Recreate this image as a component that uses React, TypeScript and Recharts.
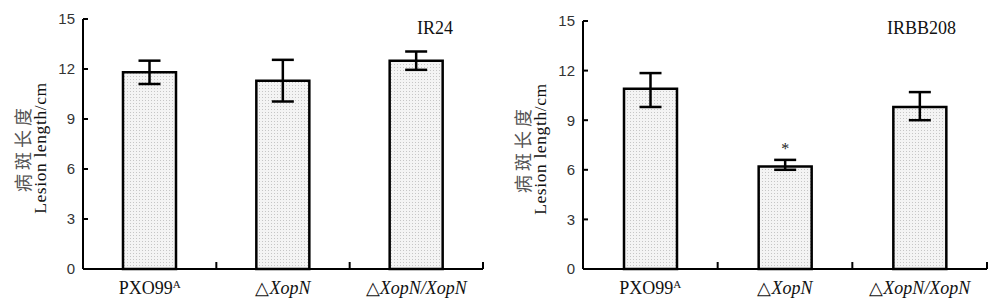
import React from "react";
import { BarChart, Bar, XAxis, YAxis, ErrorBar, LabelList } from "recharts";

const categories = ["PXO99A", "△XopN", "△XopN/XopN"];
const yTicks = [0, 3, 6, 9, 12, 15];
const ir24Means = [11.8, 11.3, 12.5];
const ir24Errors = [[0.7, 0.7], [1.25, 1.25], [0.55, 0.55]];
const ir24Sig = ["", "", ""];
const irbbMeans = [10.9, 6.2, 9.8];
const irbbErrors = [[1.1, 0.95], [0.2, 0.4], [0.8, 0.9]];
const irbbSig = ["", "*", ""];
const panelTitles = ["IR24", "IRBB208"];
const yLabelCn = "病斑长度";
const yLabelEn = "Lesion length/cm";

const SERIF = "Liberation Serif, Times New Roman, serif";
const SANS = "Liberation Sans, Arial, sans-serif";

const build = (means: number[], errs: number[][], sig: string[]) =>
  categories.map((c, i) => ({ name: c, mean: means[i], err: errs[i], sig: sig[i] }));

const XTick = (props: any) => {
  const { x, y, payload } = props;
  const half = payload && payload.offset ? payload.offset : 0;
  const v: string = payload.value;
  let content: any;
  if (v === "PXO99A") {
    content = (
      <>
        <tspan>PXO99</tspan>
        <tspan fontSize={11} dy={-6}>A</tspan>
      </>
    );
  } else {
    content = (
      <>
        <tspan>△</tspan>
        <tspan fontStyle="italic">{v.slice(1)}</tspan>
      </>
    );
  }
  return (
    <g>
      <line x1={x + half} x2={x + half} y1={y} y2={y - 7} stroke="#000" strokeWidth={2} />
      <text x={x} y={y + 25} textAnchor="middle" style={{ fontFamily: SERIF, fontSize: 18 }} fill="#111">
        {content}
      </text>
    </g>
  );
};

const YLabel = (p: any) => {
  const vb = p.viewBox || { x: 0, y: 0, width: 83, height: 250 };
  const cy = vb.y + vb.height / 2 + 4;
  const x1 = 22;
  const x2 = 40;
  return (
    <g>
      <text
        x={x1}
        y={cy}
        transform={`rotate(-90, ${x1}, ${cy})`}
        textAnchor="middle"
        dominantBaseline="central"
        style={{ fontFamily: "Noto Sans CJK SC, sans-serif", fontSize: 18, letterSpacing: 4 }}
        fill="#555"
      >
        {yLabelCn}
      </text>
      <text
        x={x2}
        y={cy}
        transform={`rotate(-90, ${x2}, ${cy})`}
        textAnchor="middle"
        dominantBaseline="central"
        style={{ fontFamily: SERIF, fontSize: 17.5, letterSpacing: 0.6 }}
        fill="#111"
      >
        {yLabelEn}
      </text>
    </g>
  );
};

const SigLabel = (p: any) => {
  const { x, y, width, value } = p;
  if (!value) return null;
  return (
    <text x={x + width / 2} y={y - 12} textAnchor="middle" style={{ fontFamily: SERIF, fontSize: 16 }} fill="#222">
      {value}
    </text>
  );
};

const Panel = ({ data, top, right }: { data: any[]; top: number; right: number }) => (
  <BarChart
    width={500}
    height={308}
    data={data}
    margin={{ top, right, left: 0, bottom: 0 }}
    barCategoryGap={0}
  >
    <XAxis
      dataKey="name"
      type="category"
      height={39}
      tickSize={0}
      tickMargin={0}
      tickLine={false}
      axisLine={{ stroke: "#000", strokeWidth: 2 }}
      tick={<XTick />}
      interval={0}
    />
    <YAxis
      type="number"
      domain={[0, 15]}
      ticks={yTicks}
      width={83}
      tickSize={-5}
      tickMargin={13}
      tickLine={{ stroke: "#000", strokeWidth: 2 }}
      axisLine={{ stroke: "#000", strokeWidth: 2 }}
      tick={{ fontFamily: SANS, fontSize: 15, fill: "#333" }}
      label={{ content: (p: any) => <YLabel {...p} /> }}
    />
    <Bar
      dataKey="mean"
      barSize={53}
      fill="url(#stipple)"
      stroke="#000"
      strokeWidth={2.5}
      isAnimationActive={false}
    >
      <ErrorBar dataKey="err" width={11} strokeWidth={2.5} stroke="#000" />
      <LabelList dataKey="sig" content={(p: any) => <SigLabel {...p} />} />
    </Bar>
  </BarChart>
);

export default function App() {
  const left = build(ir24Means, ir24Errors, ir24Sig);
  const rightData = build(irbbMeans, irbbErrors, irbbSig);
  return (
    <div style={{ position: "absolute", left: 0, top: 0, width: 1000, height: 308, background: "#fff", overflow: "hidden" }}>
      <svg width={0} height={0} style={{ position: "absolute" }}>
        <defs>
          <pattern id="stipple" width={3} height={3} patternUnits="userSpaceOnUse">
            <rect width={3} height={3} fill="#f4f4f4" />
            <rect x={1} y={1} width={1} height={1} fill="#c6c6c6" />
          </pattern>
        </defs>
      </svg>
      <div style={{ position: "absolute", left: 0, top: 0, width: 500, height: 308 }}>
        <Panel data={left} top={19} right={17} />
        <div style={{ position: "absolute", left: 417, top: 17, fontFamily: SERIF, fontSize: 18, color: "#111", lineHeight: "22px" }}>
          {panelTitles[0]}
        </div>
      </div>
      <div style={{ position: "absolute", left: 500, top: 0, width: 500, height: 308 }}>
        <Panel data={rightData} top={21} right={13} />
        <div style={{ position: "absolute", left: 387, top: 17, fontFamily: SERIF, fontSize: 18, color: "#111", lineHeight: "22px" }}>
          {panelTitles[1]}
        </div>
      </div>
    </div>
  );
}
